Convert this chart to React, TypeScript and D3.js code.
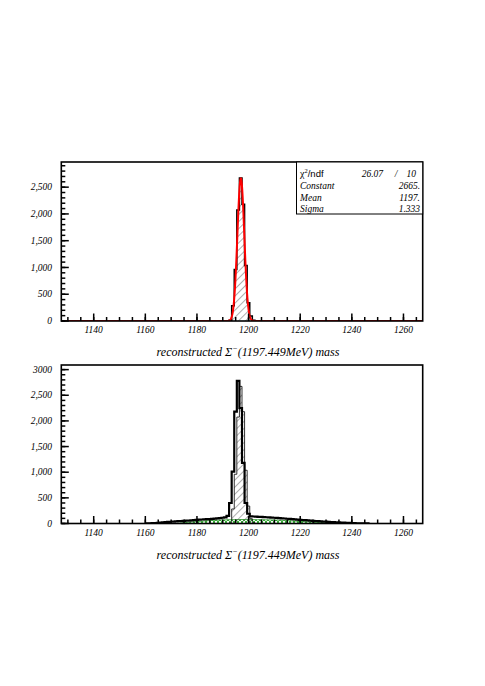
import React from "react";
import * as d3 from "d3";

// ---- data ----
const X_MIN = 1127.449;
const X_MAX = 1267.449;
const BIN_W = 1;

// signal histogram (bins of 1 MeV starting at 1192.449)
const signalStart = 1192.449;
const signalCounts = [12, 283, 960, 2075, 2673, 2180, 1038, 340, 94, 15];

// total histogram (bottom panel), starting at 1160.449
const totalStart = 1160.449;
const totalCounts = [
  2, 4, 7, 10, 14, 18, 22, 27, 31, 34,
  38, 41, 45, 48, 51, 55, 58, 62, 66, 70,
  76, 78, 81, 84, 88, 92, 96, 101, 106, 112,
  120, 150, 400, 1010, 2180, 2780, 2250, 1180, 400, 190,
  140, 136, 133, 130, 128, 125, 122, 119, 116, 112,
  109, 105, 101, 97, 93, 89, 85, 80, 76, 72,
  68, 64, 60, 56, 52, 48, 45, 42, 38, 35,
  32, 29, 26, 23, 21, 18, 16, 13, 11, 9,
  7, 5, 4, 3, 2, 1,
];

// background (green cross-hatched), starting at 1172.449
const bkgStart = 1172.449;
const bkgCounts = [
  5, 10, 15, 20, 25, 30, 34, 38, 42, 46,
  50, 53, 56, 59, 62, 64, 66, 68, 70, 72,
  73, 74, 75, 76, 77, 77, 76, 76, 75, 75,
  74, 74, 73, 72, 71, 70, 69, 68, 66, 64,
  62, 60, 57, 54, 51, 48, 45, 42, 38, 35,
  32, 29, 26, 23, 20, 17, 14, 12, 10, 8,
  6, 4, 3, 2,
];

// fit parameters (Gaussian)
const fitNames = ["Constant", "Mean", "Sigma"];
const fitValues = ["2665.", "1197.", "1.333"];
const fitParams = [2665, 1197.0, 1.333];
const chi2 = "26.07";
const ndf = "10";

const xMajorTicks = [1140, 1160, 1180, 1200, 1220, 1240, 1260];
const xMinorTicks = d3.range(1130, 1267, 5);

const topYTicks = [0, 500, 1000, 1500, 2000, 2500];
const topYLabels = ["0", "500", "1,000", "1,500", "2,000", "2,500"];
const botYTicks = [0, 500, 1000, 1500, 2000, 2500, 3000];
const botYLabels = ["0", "500", "1,000", "1,500", "2,000", "2,500", "3000"];

const TOP_YMAX = 2970;
const BOT_YMAX = 3090;

// ---- layout ----
const W = 485;
const H = 686;
const FX0 = 61.3;
const FX1 = 422.7;
const TOP = { y0: 162, y1: 321 };
const BOT = { y0: 365, y1: 523.5 };

const serif = "'Liberation Serif', 'DejaVu Serif', serif";
const sans = "'Liberation Sans', 'DejaVu Sans', sans-serif";

const x = d3.scaleLinear().domain([X_MIN, X_MAX]).range([FX0, FX1]);

function histPoints(start: number, counts: number[], y: d3.ScaleLinear<number, number>) {
  const pts: [number, number][] = [];
  pts.push([x(start), y(0)]);
  counts.forEach((c, i) => {
    const e0 = start + i * BIN_W;
    const e1 = e0 + BIN_W;
    pts.push([x(e0), y(c)]);
    pts.push([x(e1), y(c)]);
  });
  pts.push([x(start + counts.length * BIN_W), y(0)]);
  return pts;
}

const line = d3.line<[number, number]>();

function Axes({ y, y0, y1, ticks, labels, maxV }: any) {
  const minorY = d3.range(0, maxV, 100);
  return (
    <g>
      {xMinorTicks.map((t) => (
        <line key={"xm" + t} x1={x(t)} x2={x(t)} y1={y1} y2={y1 - 4} stroke="#000" strokeWidth={1.5} />
      ))}
      {xMajorTicks.map((t) => (
        <line key={"xM" + t} x1={x(t)} x2={x(t)} y1={y1} y2={y1 - 7.5} stroke="#000" strokeWidth={1.5} />
      ))}
      {xMajorTicks.map((t) => (
        <text key={"xl" + t} x={x(t)} y={y1 + 12} textAnchor="middle" fontFamily={serif} fontStyle="italic" fontSize={9.5}>
          {t}
        </text>
      ))}
      {minorY.map((v) => (
        <line key={"ym" + v} x1={FX0} x2={FX0 + 4} y1={y(v)} y2={y(v)} stroke="#000" strokeWidth={1.5} />
      ))}
      {ticks.map((v: number, i: number) => (
        <g key={"yM" + v}>
          <line x1={FX0} x2={FX0 + 7.5} y1={y(v)} y2={y(v)} stroke="#000" strokeWidth={1.5} />
          <text x={52} y={y(v) + 3.2} textAnchor="end" fontFamily={serif} fontStyle="italic" fontSize={9.5}>
            {labels[i]}
          </text>
        </g>
      ))}
      <rect x={FX0} y={y0} width={FX1 - FX0} height={y1 - y0} fill="none" stroke="#000" strokeWidth={1.6} />
    </g>
  );
}

function Title({ yb }: { yb: number }) {
  return (
    <text x={248} y={yb} textAnchor="middle" fontFamily={serif} fontStyle="italic" fontSize={12}>
      reconstructed Σ
      <tspan fontSize={8} dy={-5}>−</tspan>
      <tspan dy={5}>(1197.449MeV) mass</tspan>
    </text>
  );
}

export default function App() {
  const yTop = d3.scaleLinear().domain([0, TOP_YMAX]).range([TOP.y1, TOP.y0]);
  const yBot = d3.scaleLinear().domain([0, BOT_YMAX]).range([BOT.y1, BOT.y0]);

  const fitPts: [number, number][] = d3.range(0, 1401).map((i) => {
    const xv = X_MIN + (i * (X_MAX - X_MIN)) / 1400;
    const [c, m, s] = fitParams;
    const v = c * Math.exp(-0.5 * ((xv - m) / s) ** 2);
    return [x(xv), yTop(v)];
  });

  const sigTop = histPoints(signalStart, signalCounts, yTop);
  const sigBot = histPoints(signalStart, signalCounts, yBot);
  const totBot = histPoints(totalStart, totalCounts, yBot);
  const bkgBot = histPoints(bkgStart, bkgCounts, yBot);

  const bx0 = 296.5;
  const by0 = TOP.y0;
  const by1 = 214;
  const rows = [176.5, 188.5, 200.5, 211.5];

  return (
    <svg width={W} height={H} style={{ position: "absolute", left: 0, top: 0, background: "#fff" }}>
      <defs>
        <pattern id="hatch" patternUnits="userSpaceOnUse" width={5} height={5} patternTransform="rotate(45)">
          <line x1={0} y1={0} x2={0} y2={5} stroke="#333" strokeWidth={0.8} />
        </pattern>
        <pattern id="xhatch" patternUnits="userSpaceOnUse" width={4} height={4}>
          <line x1={0} y1={0} x2={4} y2={4} stroke="#22aa22" strokeWidth={0.9} />
          <line x1={0} y1={4} x2={4} y2={0} stroke="#22aa22" strokeWidth={0.9} />
        </pattern>
        <clipPath id="clipTop">
          <rect x={FX0} y={TOP.y0} width={FX1 - FX0} height={TOP.y1 - TOP.y0} />
        </clipPath>
        <clipPath id="clipBot">
          <rect x={FX0} y={BOT.y0} width={FX1 - FX0} height={BOT.y1 - BOT.y0} />
        </clipPath>
      </defs>
      <rect x={0} y={0} width={W} height={H} fill="#fff" />

      {/* top panel */}
      <g clipPath="url(#clipTop)">
        <path d={line(sigTop) || ""} fill="url(#hatch)" stroke="#000" strokeWidth={1.5} />
        <path d={line(fitPts) || ""} fill="none" stroke="#ff0000" strokeWidth={2} />
      </g>
      <Axes y={yTop} y0={TOP.y0} y1={TOP.y1} ticks={topYTicks} labels={topYLabels} maxV={TOP_YMAX} />

      {/* stats box */}
      <rect x={bx0} y={by0} width={FX1 - bx0} height={by1 - by0} fill="#fff" stroke="#000" strokeWidth={1} />
      <text x={300} y={rows[0]} fontFamily={serif} fontSize={10}>
        χ<tspan fontSize={6.5} dy={-4}>2</tspan>
        <tspan dy={4} fontFamily={sans} fontSize={9.5}>/ndf</tspan>
      </text>
      <text x={383} y={rows[0]} textAnchor="end" fontFamily={serif} fontStyle="italic" fontSize={9.5}>{chi2}</text>
      <text x={396} y={rows[0]} textAnchor="middle" fontFamily={serif} fontStyle="italic" fontSize={9.5}>/</text>
      <text x={416} y={rows[0]} textAnchor="end" fontFamily={serif} fontStyle="italic" fontSize={9.5}>{ndf}</text>
      {fitNames.map((n, i) => (
        <g key={n}>
          <text x={300} y={rows[i + 1]} fontFamily={serif} fontStyle="italic" fontSize={9.5}>{n}</text>
          <text x={420} y={rows[i + 1]} textAnchor="end" fontFamily={serif} fontStyle="italic" fontSize={9.5}>{fitValues[i]}</text>
        </g>
      ))}

      <Title yb={356} />

      {/* bottom panel */}
      <g clipPath="url(#clipBot)">
        <path d={line(bkgBot) || ""} fill="url(#xhatch)" stroke="#1d8a1d" strokeWidth={0.8} />
        <path d={line(sigBot) || ""} fill="url(#hatch)" stroke="#000" strokeWidth={0.8} />
        <path d={line(totBot) || ""} fill="none" stroke="#000" strokeWidth={2.2} />
      </g>
      <Axes y={yBot} y0={BOT.y0} y1={BOT.y1} ticks={botYTicks} labels={botYLabels} maxV={BOT_YMAX} />

      <Title yb={559} />
    </svg>
  );
}
